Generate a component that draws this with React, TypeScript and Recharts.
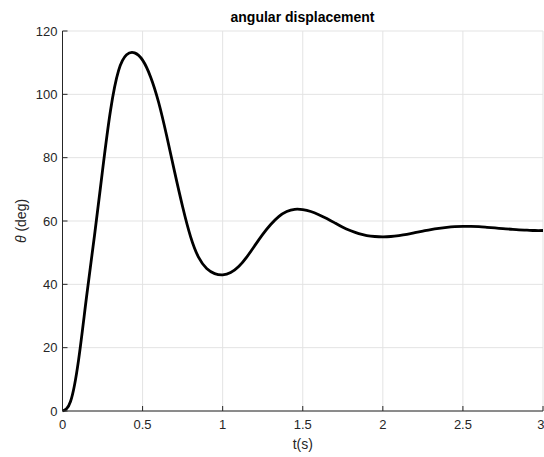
import { LineChart, Line, XAxis, YAxis, CartesianGrid } from 'recharts';

// time samples (s) and angular displacement (deg)
const times = [
  0, 0.05, 0.1, 0.15, 0.2, 0.25, 0.3, 0.35, 0.4, 0.45, 0.5, 0.55, 0.6, 0.65, 0.7,
  0.75, 0.8, 0.85, 0.9, 0.95, 1.0, 1.05, 1.1, 1.15, 1.2, 1.25, 1.3, 1.35, 1.4,
  1.45, 1.5, 1.55, 1.6, 1.65, 1.7, 1.75, 1.8, 1.85, 1.9, 1.95, 2.0, 2.05, 2.1,
  2.15, 2.2, 2.25, 2.3, 2.35, 2.4, 2.45, 2.5, 2.55, 2.6, 2.65, 2.7, 2.75, 2.8,
  2.85, 2.9, 2.95, 3.0,
];
const theta = [
  0, 3, 16, 36, 55.5, 76, 95, 107.5, 112.5, 113.1, 110.8, 105.5, 97.5, 87, 75.5,
  64.5, 55, 48.5, 45, 43.4, 43, 43.7, 45.6, 48.6, 52.2, 55.8, 58.9, 61.4, 63,
  63.7, 63.6, 63, 62, 60.8, 59.4, 58, 56.9, 56, 55.4, 55.1, 55, 55.1, 55.4,
  55.8, 56.3, 56.8, 57.3, 57.7, 58, 58.2, 58.3, 58.3, 58.2, 58, 57.8, 57.6, 57.4,
  57.2, 57.1, 57, 57,
];
const xTicks = [0, 0.5, 1, 1.5, 2, 2.5, 3];
const yTicks = [0, 20, 40, 60, 80, 100, 120];

const data = times.map((t, i) => ({ t, theta: theta[i] }));

const FONT = '"Liberation Sans", Arial, Helvetica, sans-serif';
const INK = '#262626';
const tickStyle = { fontSize: 13, fill: INK, fontFamily: FONT };

export default function App() {
  return (
    <div style={{ position: 'absolute', left: 0, top: 0, width: 544, height: 457, background: '#fff' }}>
      <div
        style={{
          position: 'absolute',
          left: 62,
          width: 481,
          top: 9,
          textAlign: 'center',
          fontFamily: FONT,
          fontWeight: 'bold',
          fontSize: 14,
          color: '#000',
        }}
      >
        angular displacement
      </div>
      <LineChart width={544} height={457} data={data} margin={{ top: 31, right: 1, left: 0, bottom: 0 }}>
        <CartesianGrid stroke="#e3e3e3" strokeWidth={1} xAxisId="bottom" yAxisId="left" />
        <XAxis
          xAxisId="bottom"
          dataKey="t"
          type="number"
          domain={[0, 3]}
          ticks={xTicks}
          height={46}
          stroke={INK}
          tickSize={-5}
          tickMargin={14}
          tick={tickStyle}
          label={{ value: 't(s)', position: 'insideBottom', offset: 8, style: { fontSize: 14, fill: INK, fontFamily: FONT } }}
        />
        <XAxis
          xAxisId="top"
          orientation="top"
          type="number"
          domain={[0, 3]}
          ticks={xTicks}
          height={0}
          stroke={INK}
          tickSize={-5}
          tick={() => <g />}
        />
        <YAxis
          yAxisId="left"
          type="number"
          domain={[0, 120]}
          ticks={yTicks}
          width={62.5}
          stroke={INK}
          tickSize={-5}
          tickMargin={10}
          tick={tickStyle}
          label={{
            content: () => (
              <text
                x={22}
                y={221}
                transform="rotate(-90 22 221)"
                textAnchor="middle"
                dominantBaseline="middle"
                fontFamily={FONT}
                fontSize={14}
                fill={INK}
              >
                <tspan fontStyle="italic">θ</tspan>
                <tspan> (deg)</tspan>
              </text>
            ),
          }}
        />
        <YAxis
          yAxisId="right"
          orientation="right"
          type="number"
          domain={[0, 120]}
          ticks={yTicks}
          width={0}
          stroke={INK}
          tickSize={-5}
          tick={() => <g />}
        />
        <Line
          xAxisId="bottom"
          yAxisId="left"
          dataKey="theta"
          type="natural"
          stroke="#000"
          strokeWidth={2.8}
          dot={false}
          isAnimationActive={false}
        />
      </LineChart>
    </div>
  );
}
